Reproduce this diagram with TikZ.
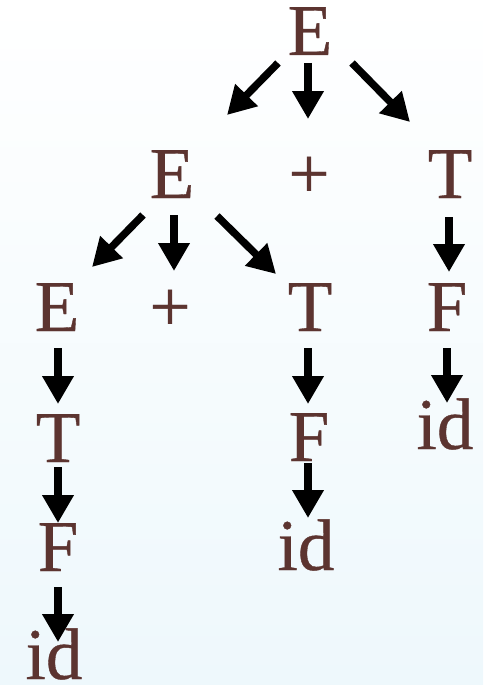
\documentclass[tikz,border=0pt]{standalone}
\usepackage{fontspec}
\setmainfont{Liberation Serif}
\newfontfamily\symfont[FakeBold=0.5]{Liberation Serif}
\usetikzlibrary{arrows.meta,calc}
\definecolor{txt}{RGB}{92,52,48}
\definecolor{bgbot}{RGB}{238,248,252}
\begin{document}
\begin{tikzpicture}[x=1pt,y=-1pt,
  sym/.style={inner sep=0pt,outer sep=0pt,anchor=base,text=txt,font=\symfont\fontsize{73}{73}\selectfont},
  arr/.style={line width=7.5pt,-{Triangle[length=28pt 0 0,width=30pt 0 0]}}]
\useasboundingbox (0,0) rectangle (483,685);
\shade[top color=white,bottom color=bgbot] (0,0) rectangle (483,685);
% nodes
\node[sym] (E1) at (310,55) {E};
\node[sym] (E2) at (172,198) {E};
\node[sym] (P2) at (309,198) {+};
\node[sym] (T2) at (450,198) {T};
\node[sym] (E3) at (57,331) {E};
\node[sym] (P3) at (170,331) {+};
\node[sym] (T3) at (310,331) {T};
\node[sym] (F3) at (447,331) {F};
\node[sym] (T4) at (58,462) {T};
\node[sym] (F4) at (309,461) {F};
\node[sym] (I4) at (445,449) {id};
\node[sym] (F5) at (58,571) {F};
\node[sym] (I5) at (306,570) {id};
\node[sym] (I6) at (54,679) {id};
% connectors
\draw[arr] ($(E1.base)+(-32,8)$) -- ($(E2.base)+(55,-83)$);
\draw[arr] ($(E1.base)+(-2,8)$) -- ($(P2.base)+(-1,-79)$);
\draw[arr] ($(E1.base)+(42,8)$) -- ($(T2.base)+(-40,-76)$);
\draw[arr] ($(E2.base)+(-29,17)$) -- ($(E3.base)+(35,-64)$);
\draw[arr] ($(E2.base)+(2,17)$) -- ($(P3.base)+(4,-60)$);
\draw[arr] ($(E2.base)+(45,18)$) -- ($(T3.base)+(-34,-57)$);
\draw[arr] ($(T2.base)+(-1,19)$) -- ($(F3.base)+(2,-59)$);
\draw[arr] ($(E3.base)+(1,17)$) -- ($(T4.base)+(0,-58)$);
\draw[arr] ($(T4.base)+(0,5)$) -- ($(F5.base)+(0,-48)$);
\draw[arr] ($(F5.base)+(0,16)$) -- ($(I6.base)+(4,-37)$);
\draw[arr] ($(T3.base)+(-2,17)$) -- ($(F4.base)+(-1,-57)$);
\draw[arr] ($(F4.base)+(-1,2)$) -- ($(I5.base)+(2,-52)$);
\draw[arr] ($(F3.base)+(0,17)$) -- ($(I4.base)+(2,-46)$);
\end{tikzpicture}
\end{document}
